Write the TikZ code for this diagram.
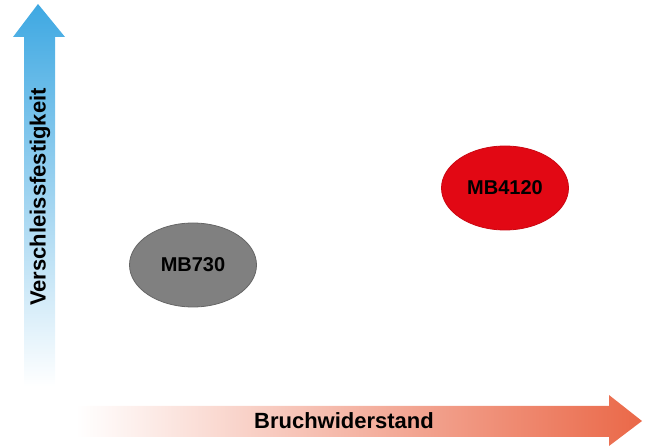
\documentclass[tikz,border=0pt]{standalone}
\usepackage{fontspec}
\setmainfont{Liberation Sans}
\usepackage{tikz}
\usetikzlibrary{positioning,shapes.geometric}
\definecolor{axisblue}{RGB}{62,168,226}
\definecolor{axisorange}{RGB}{234,104,72}
\definecolor{mbred}{RGB}{226,8,20}
\definecolor{mbgray}{RGB}{128,128,128}

\begin{document}
\begin{tikzpicture}[
    x=1pt, y=-1pt,
    grade/.style={ellipse, draw, line width=0.8pt, minimum width=127pt, minimum height=84pt, inner sep=0pt, font=\bfseries\fontsize{20}{22}\selectfont},
    axislabel/.style={font=\bfseries\fontsize{22}{26}\selectfont, inner sep=0pt}
]
    \useasboundingbox (0,0) rectangle (646,446);

    % Achsen
    \shade[top color=axisblue, bottom color=white]
        (24,386) -- (24,37) -- (13,37) -- (38,4) -- (65,37) -- (55,37) -- (55,386) -- cycle;
    \shade[left color=white, right color=axisorange]
        (76,406) -- (609,406) -- (609,395) -- (642,421) -- (609,446) -- (609,437) -- (76,437) -- cycle;

    \node[axislabel, rotate=90] (yaxis) at (40,197) {Verschleissfestigkeit};
    \node[axislabel] (xaxis) at (344,421) {Bruchwiderstand};

    % Werkstoffe
    \node[grade, fill=mbgray, draw=mbgray!80!black] (mb730) at (193,265) {MB730};
    \node[grade, fill=mbred, draw=mbred!90!black] (mb4120) at (505,188) {MB4120};
\end{tikzpicture}
\end{document}
